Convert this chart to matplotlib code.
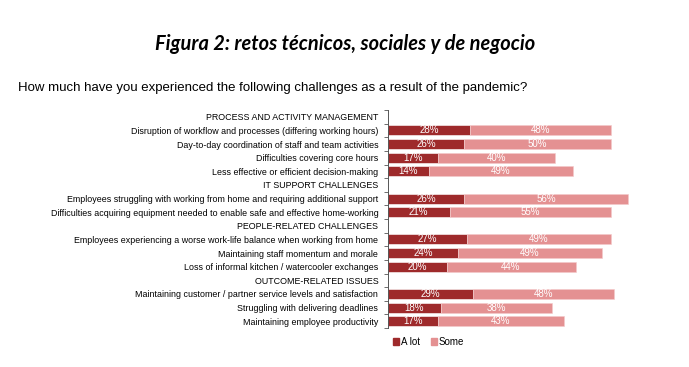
import numpy as np
import matplotlib
matplotlib.use("Agg")
import matplotlib.pyplot as plt
from matplotlib.patches import Patch

# rows top to bottom; None = section header
labels = [
    "PROCESS AND ACTIVITY MANAGEMENT",
    "Disruption of workflow and processes (differing working hours)",
    "Day-to-day coordination of staff and team activities",
    "Difficulties covering core hours",
    "Less effective or efficient decision-making",
    "IT SUPPORT CHALLENGES",
    "Employees struggling with working from home and requiring additional support",
    "Difficulties acquiring equipment needed to enable safe and effective home-working",
    "PEOPLE-RELATED CHALLENGES",
    "Employees experiencing a worse work-life balance when working from home",
    "Maintaining staff momentum and morale",
    "Loss of informal kitchen / watercooler exchanges",
    "OUTCOME-RELATED ISSUES",
    "Maintaining customer / partner service levels and satisfaction",
    "Struggling with delivering deadlines",
    "Maintaining employee productivity",
]
a_lot = [None, 28, 26, 17, 14, None, 26, 21, None, 27, 24, 20, None, 29, 18, 17]
some = [None, 48, 50, 40, 49, None, 56, 55, None, 49, 49, 44, None, 48, 38, 43]

dark = "#9e2a2b"
light = "#e49192"

plt.rcParams["font.family"] = ["Liberation Sans", "DejaVu Sans"]

fig = plt.figure(figsize=(6.89, 3.67), dpi=100)
ax = fig.add_axes([388 / 689, 1 - 328 / 367, 293 / 689, 218 / 367])

y = np.arange(len(labels))
for i, (a, s) in enumerate(zip(a_lot, some)):
    if a is None:
        continue
    ax.barh(i, a, height=0.74, color=dark, edgecolor="white", linewidth=0.4)
    ax.barh(i, s, left=a, height=0.74, color=light, edgecolor="#f4caca", linewidth=0.4)
    ax.text(a / 2, i, f"{a}%", ha="center", va="center", color="white", fontsize=7)
    ax.text(a + s / 2, i, f"{s}%", ha="center", va="center", color="white", fontsize=7)

ax.set_xlim(0, 100)
ax.set_ylim(len(labels) - 0.5, -0.5)
ax.set_yticks(y)
ax.set_yticklabels(labels, fontsize=6.4)
ax.set_yticks(np.arange(-0.5, len(labels), 1), minor=True)
ax.tick_params(axis="y", which="major", length=0, pad=7)
ax.tick_params(axis="y", which="minor", length=3, color="#555555", width=0.6)
ax.set_xticks([])
for sp in ["top", "right", "bottom"]:
    ax.spines[sp].set_visible(False)
ax.spines["left"].set_color("#555555")
ax.spines["left"].set_linewidth(0.7)

fig.text(345 / 689, 1 - 44 / 367, "Figura 2: retos técnicos, sociales y de negocio",
         ha="center", va="center", fontsize=14.4, fontweight="bold", style="italic",
         family=["Lato", "DejaVu Sans"])
fig.text(18 / 689, 1 - 88 / 367,
         "How much have you experienced the following challenges as a result of the pandemic?",
         ha="left", va="center", fontsize=9.5)

handles = [Patch(color=dark, label="A lot"), Patch(color=light, label="Some")]
fig.legend(handles=handles, loc="center left", bbox_to_anchor=(384 / 689, 1 - 342 / 367),
           ncol=2, frameon=False, fontsize=7, handlelength=0.6, handleheight=0.6,
           handletextpad=0.2, columnspacing=1.2)

fig.savefig("out.png", dpi=100)
